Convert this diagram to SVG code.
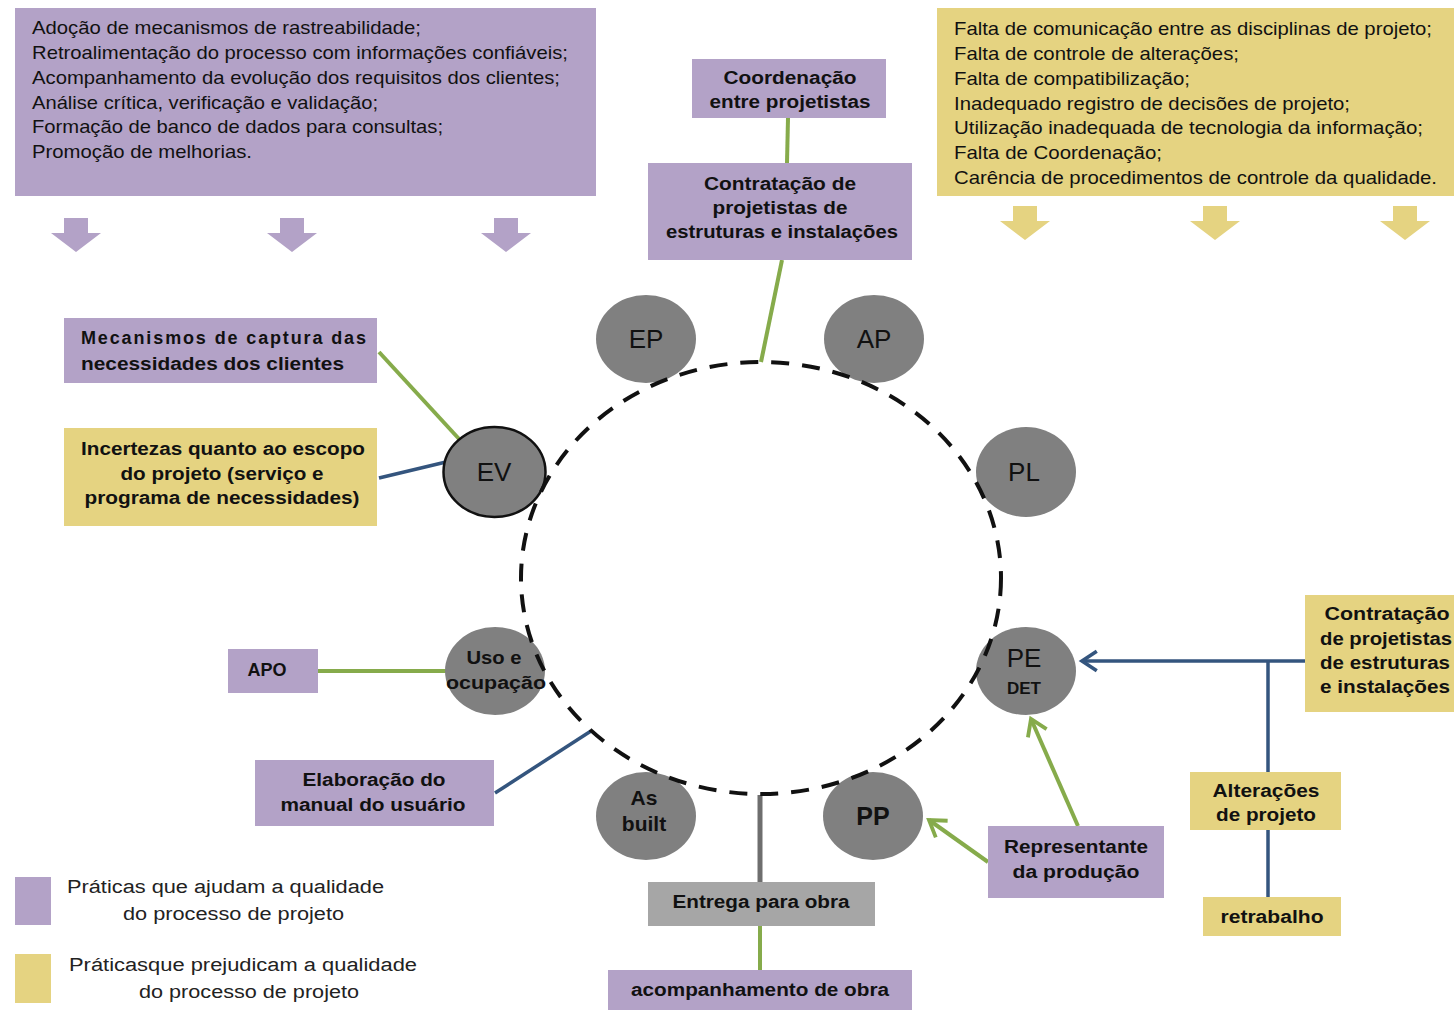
<svg xmlns="http://www.w3.org/2000/svg" width="1454" height="1011" viewBox="0 0 1454 1011">
  <defs>
    <style>
      .bg { fill: #ffffff; }
      .pur { fill: #b3a2c7; }
      .yel { fill: #e5d381; }
      .gry { fill: #a6a6a6; }
      .node { fill: #808080; }
      .list { font-family: "Liberation Sans", Arial, sans-serif; font-size: 19px; fill: #111; }
      .lbl { font-family: "Liberation Sans", Arial, sans-serif; font-size: 18px; font-weight: bold; fill: #111; text-anchor: middle; }
      .lbl-l { font-family: "Liberation Sans", Arial, sans-serif; font-size: 18px; font-weight: bold; fill: #111; }
      .nlbl { font-family: "Liberation Sans", Arial, sans-serif; font-size: 26px; fill: #111; text-anchor: middle; }
      .leg { font-family: "Liberation Sans", Arial, sans-serif; font-size: 18px; fill: #222; }
      .green { stroke: #86ab4b; stroke-width: 4; fill: none; }
      .blue { stroke: #34557e; stroke-width: 3.5; fill: none; }
      .dark { stroke: #6e6e6e; stroke-width: 5; fill: none; }
    </style>
    <!-- open chevron heads, tip at the line end -->
    <marker id="arrGreen" viewBox="0 0 20 20" refX="16" refY="10" markerWidth="6" markerHeight="6" markerUnits="strokeWidth" orient="auto" overflow="visible">
      <path d="M3,1.5 L16,10 L3,18.5" fill="none" stroke="#86ab4b" stroke-width="3.2" stroke-linejoin="miter"/>
    </marker>
    <marker id="arrBlue" viewBox="0 0 20 20" refX="16" refY="10" markerWidth="6.5" markerHeight="6.5" markerUnits="strokeWidth" orient="auto" overflow="visible">
      <path d="M3,1.5 L16,10 L3,18.5" fill="none" stroke="#34557e" stroke-width="3.2" stroke-linejoin="miter"/>
    </marker>
    <path id="downArrow" d="M-12,0 H12 V15 H25 L0,34 L-25,15 H-12 Z"/>
  </defs>

  <rect class="bg" x="0" y="0" width="1454" height="1011"/>

  <!-- top lists -->
  <g id="list-good">
    <rect class="pur" x="15" y="8" width="581" height="188"/>
    <text class="list" x="32" y="34" textLength="389" lengthAdjust="spacingAndGlyphs">Adoção de mecanismos de rastreabilidade;</text>
    <text class="list" x="32" y="59" textLength="536" lengthAdjust="spacingAndGlyphs">Retroalimentação do processo com informações confiáveis;</text>
    <text class="list" x="32" y="84" textLength="528" lengthAdjust="spacingAndGlyphs">Acompanhamento da evolução dos requisitos dos clientes;</text>
    <text class="list" x="32" y="109" textLength="346" lengthAdjust="spacingAndGlyphs">Análise crítica, verificação e validação;</text>
    <text class="list" x="32" y="133" textLength="411" lengthAdjust="spacingAndGlyphs">Formação de banco de dados para consultas;</text>
    <text class="list" x="32" y="158" textLength="220" lengthAdjust="spacingAndGlyphs">Promoção de melhorias.</text>
  </g>
  <g id="arrows-good" class="pur">
    <use href="#downArrow" x="76" y="218"/>
    <use href="#downArrow" x="292" y="218"/>
    <use href="#downArrow" x="506" y="218"/>
  </g>

  <g id="list-bad">
    <rect class="yel" x="937" y="8" width="517" height="188"/>
    <text class="list" x="954" y="35" textLength="478" lengthAdjust="spacingAndGlyphs">Falta de comunicação entre as disciplinas de projeto;</text>
    <text class="list" x="954" y="60" textLength="285" lengthAdjust="spacingAndGlyphs">Falta de controle de alterações;</text>
    <text class="list" x="954" y="85" textLength="236" lengthAdjust="spacingAndGlyphs">Falta de compatibilização;</text>
    <text class="list" x="954" y="110" textLength="396" lengthAdjust="spacingAndGlyphs">Inadequado registro de decisões de projeto;</text>
    <text class="list" x="954" y="134" textLength="469" lengthAdjust="spacingAndGlyphs">Utilização inadequada de tecnologia da informação;</text>
    <text class="list" x="954" y="159" textLength="208" lengthAdjust="spacingAndGlyphs">Falta de Coordenação;</text>
    <text class="list" x="954" y="184" textLength="483" lengthAdjust="spacingAndGlyphs">Carência de procedimentos de controle da qualidade.</text>
  </g>
  <g id="arrows-bad" class="yel">
    <use href="#downArrow" x="1025" y="206"/>
    <use href="#downArrow" x="1215" y="206"/>
    <use href="#downArrow" x="1405" y="206"/>
  </g>

  <!-- connectors -->
  <g id="connectors">
    <line class="green" x1="788" y1="118" x2="787" y2="163"/>
    <line class="green" x1="782" y1="260" x2="761" y2="362"/>
    <line class="green" x1="379" y1="352" x2="460" y2="440"/>
    <line class="blue" x1="379" y1="478" x2="446" y2="462"/>
    <line class="green" x1="318" y1="671" x2="446" y2="671"/>
    <line class="blue" x1="495" y1="793" x2="591" y2="731"/>
    <line class="dark" x1="760" y1="795" x2="760" y2="882"/>
    <line class="green" x1="760" y1="926" x2="760" y2="970"/>
    <line class="green" x1="1078" y1="826" x2="1031" y2="719" marker-end="url(#arrGreen)"/>
    <line class="green" x1="988" y1="862" x2="929" y2="820" marker-end="url(#arrGreen)"/>
    <line class="blue" x1="1305" y1="661" x2="1082" y2="661" marker-end="url(#arrBlue)"/>
    <line class="blue" x1="1268" y1="661" x2="1268" y2="772"/>
    <line class="blue" x1="1268" y1="830" x2="1268" y2="897"/>
  </g>

  <!-- phase nodes -->
  <g id="node-EP"><ellipse class="node" cx="646" cy="339" rx="50" ry="44"/><text class="nlbl" x="646" y="348">EP</text></g>
  <g id="node-AP"><ellipse class="node" cx="874" cy="339" rx="50" ry="44"/><text class="nlbl" x="874" y="348">AP</text></g>
  <g id="node-EV"><ellipse class="node" cx="494.5" cy="472" rx="51" ry="45" stroke="#111" stroke-width="2.5"/><text class="nlbl" x="494" y="481">EV</text></g>
  <g id="node-PL"><ellipse class="node" cx="1026" cy="472" rx="50" ry="45"/><text class="nlbl" x="1024" y="481">PL</text></g>
  <g id="node-PE"><ellipse class="node" cx="1026" cy="671" rx="50" ry="44"/><text class="nlbl" x="1024" y="667">PE</text><text class="lbl" x="1024" y="694" style="font-size:17px">DET</text></g>
  <g id="node-uso"><ellipse class="node" cx="495" cy="671" rx="50" ry="44"/><text class="lbl" x="494" y="664" textLength="55" lengthAdjust="spacingAndGlyphs">Uso e</text><text class="lbl" x="496" y="689" textLength="100" lengthAdjust="spacingAndGlyphs">ocupação</text></g>
  <g id="node-asbuilt"><ellipse class="node" cx="646" cy="816" rx="50" ry="44"/><text class="lbl" x="644" y="805" style="font-size:21px">As</text><text class="lbl" x="644" y="831" style="font-size:21px">built</text></g>
  <g id="node-PP"><ellipse class="node" cx="873" cy="816" rx="50" ry="44"/><text class="nlbl" x="873" y="825" style="font-size:25px;font-weight:bold">PP</text></g>

  <!-- cycle -->
  <ellipse id="cycle" cx="761" cy="578" rx="240" ry="216" fill="none" stroke="#111" stroke-width="4" stroke-dasharray="18 13"/>

  <!-- practice boxes -->
  <g id="box-coordenacao">
    <rect class="pur" x="692" y="59" width="194" height="59"/>
    <text class="lbl" x="790" y="84" textLength="133" lengthAdjust="spacingAndGlyphs">Coordenação</text>
    <text class="lbl" x="790" y="108" textLength="161" lengthAdjust="spacingAndGlyphs">entre projetistas</text>
  </g>
  <g id="box-contratacao-top">
    <rect class="pur" x="648" y="163" width="264" height="97"/>
    <text class="lbl" x="780" y="190" textLength="152" lengthAdjust="spacingAndGlyphs">Contratação de</text>
    <text class="lbl" x="780" y="214" textLength="135" lengthAdjust="spacingAndGlyphs">projetistas de</text>
    <text class="lbl" x="782" y="238" textLength="232" lengthAdjust="spacingAndGlyphs">estruturas e instalações</text>
  </g>
  <g id="box-mecanismos">
    <rect class="pur" x="64" y="318" width="313" height="65"/>
    <text class="lbl-l" x="81" y="344" textLength="285" lengthAdjust="spacing">Mecanismos de captura das</text>
    <text class="lbl-l" x="81" y="370" textLength="263" lengthAdjust="spacingAndGlyphs">necessidades dos clientes</text>
  </g>
  <g id="box-incertezas">
    <rect class="yel" x="64" y="428" width="313" height="98"/>
    <text class="lbl" x="223" y="455" textLength="284" lengthAdjust="spacingAndGlyphs">Incertezas quanto ao escopo</text>
    <text class="lbl" x="222" y="480" textLength="203" lengthAdjust="spacingAndGlyphs">do projeto (serviço e</text>
    <text class="lbl" x="222" y="504" textLength="275" lengthAdjust="spacingAndGlyphs">programa de necessidades)</text>
  </g>
  <g id="box-apo">
    <rect class="pur" x="228" y="649" width="90" height="44"/>
    <text class="lbl" x="267" y="676">APO</text>
  </g>
  <g id="box-manual">
    <rect class="pur" x="255" y="760" width="239" height="66"/>
    <text class="lbl" x="374" y="786" textLength="143" lengthAdjust="spacingAndGlyphs">Elaboração do</text>
    <text class="lbl" x="373" y="811" textLength="185" lengthAdjust="spacingAndGlyphs">manual do usuário</text>
  </g>
  <g id="box-entrega">
    <rect class="gry" x="648" y="882" width="227" height="44"/>
    <text class="lbl" x="761" y="908" textLength="177" lengthAdjust="spacingAndGlyphs">Entrega para obra</text>
  </g>
  <g id="box-acompanhamento">
    <rect class="pur" x="608" y="970" width="304" height="40"/>
    <text class="lbl" x="760" y="996" textLength="258" lengthAdjust="spacingAndGlyphs">acompanhamento de obra</text>
  </g>
  <g id="box-representante">
    <rect class="pur" x="988" y="826" width="176" height="72"/>
    <text class="lbl" x="1076" y="853" textLength="144" lengthAdjust="spacingAndGlyphs">Representante</text>
    <text class="lbl" x="1076" y="878" textLength="127" lengthAdjust="spacingAndGlyphs">da produção</text>
  </g>
  <g id="box-contratacao-right">
    <rect class="yel" x="1305" y="595" width="149" height="117"/>
    <text class="lbl" x="1387" y="620" textLength="125" lengthAdjust="spacingAndGlyphs">Contratação</text>
    <text class="lbl" x="1386" y="645" textLength="132" lengthAdjust="spacingAndGlyphs">de projetistas</text>
    <text class="lbl" x="1385" y="669" textLength="130" lengthAdjust="spacingAndGlyphs">de estruturas</text>
    <text class="lbl" x="1385" y="693" textLength="130" lengthAdjust="spacingAndGlyphs">e instalações</text>
  </g>
  <g id="box-alteracoes">
    <rect class="yel" x="1190" y="772" width="151" height="58"/>
    <text class="lbl" x="1266" y="797" textLength="107" lengthAdjust="spacingAndGlyphs">Alterações</text>
    <text class="lbl" x="1266" y="821" textLength="100" lengthAdjust="spacingAndGlyphs">de projeto</text>
  </g>
  <g id="box-retrabalho">
    <rect class="yel" x="1203" y="897" width="138" height="39"/>
    <text class="lbl" x="1272" y="923" textLength="103" lengthAdjust="spacingAndGlyphs">retrabalho</text>
  </g>

  <!-- legend -->
  <g id="legend">
    <rect class="pur" x="15" y="877" width="36" height="48"/>
    <text class="leg" x="67" y="893" textLength="317" lengthAdjust="spacingAndGlyphs">Práticas que ajudam a qualidade</text>
    <text class="leg" x="123" y="920" textLength="221" lengthAdjust="spacingAndGlyphs">do processo de projeto</text>
    <rect class="yel" x="15" y="954" width="36" height="49"/>
    <text class="leg" x="69" y="971" textLength="348" lengthAdjust="spacingAndGlyphs">Práticasque prejudicam a qualidade</text>
    <text class="leg" x="139" y="998" textLength="220" lengthAdjust="spacingAndGlyphs">do processo de projeto</text>
  </g>
</svg>
